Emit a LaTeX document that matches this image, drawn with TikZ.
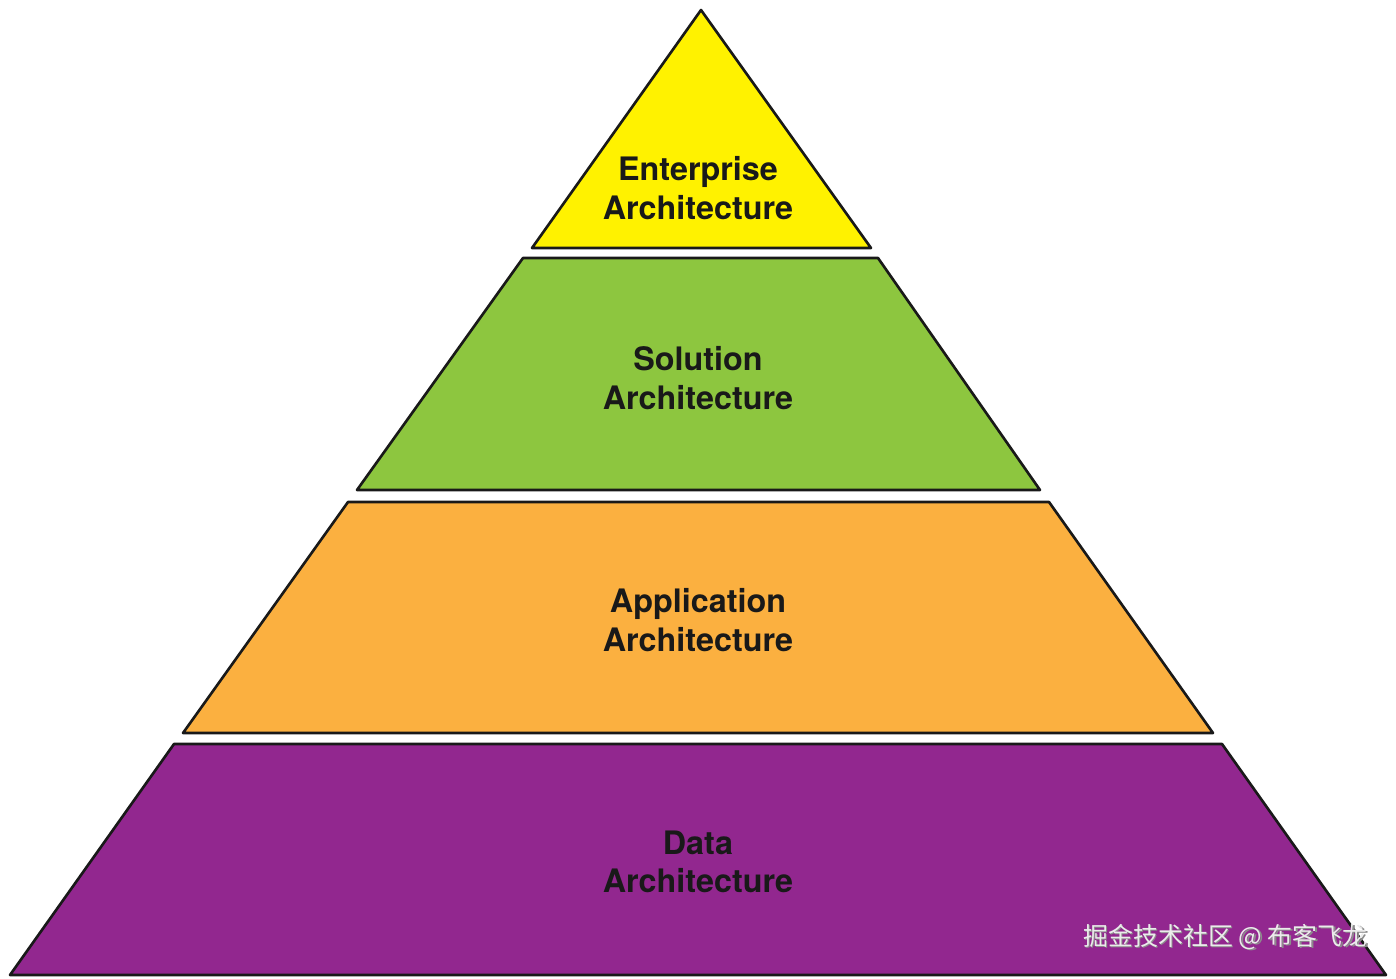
\documentclass[tikz,border=0pt]{standalone}
\usepackage{fontspec}
\setmainfont{TeX Gyre Heros}
\newfontfamily\cjk{Noto Sans CJK SC}
\definecolor{layerY}{HTML}{FFF200}
\definecolor{layerG}{HTML}{8DC63F}
\definecolor{layerO}{HTML}{FBB040}
\definecolor{layerP}{HTML}{92278F}
\begin{document}
\begin{tikzpicture}[x=0.02cm, y=-0.02cm, line join=round,
        layer/.style={draw=black!90, line width=1.5pt},
        label/.style={font=\fontsize{18.4}{22}\selectfont\bfseries, text=black!90, align=center}]
    \useasboundingbox (0,0) rectangle (1396,978);
    % layers of the pyramid, top to bottom
    \draw[layer, fill=layerY] (701,10) -- (871,248) -- (532,248) -- cycle;
    \draw[layer, fill=layerG] (523,258) -- (878,258) -- (1040,490) -- (357,490) -- cycle;
    \draw[layer, fill=layerO] (348,502) -- (1049,502) -- (1213,733) -- (183,733) -- cycle;
    \draw[layer, fill=layerP] (174,744) -- (1222,744) -- (1386,975) -- (10,975) -- cycle;
    \node[label] (ent) at (698,188) {Enterprise\\Architecture};
    \node[label] (sol) at (698,378) {Solution\\Architecture};
    \node[label] (app) at (698,620) {Application\\Architecture};
    \node[label] (dat) at (698,862) {Data\\Architecture};
    % watermark
    \node[font=\cjk\fontsize{14.2}{16}\selectfont, text=black!45] at (1227,938.5) {掘金技术社区 @ 布客飞龙};
    \node[font=\cjk\fontsize{14.2}{16}\selectfont, text=white!92!black] (mark) at (1225.5,937) {掘金技术社区 @ 布客飞龙};
\end{tikzpicture}
\end{document}
